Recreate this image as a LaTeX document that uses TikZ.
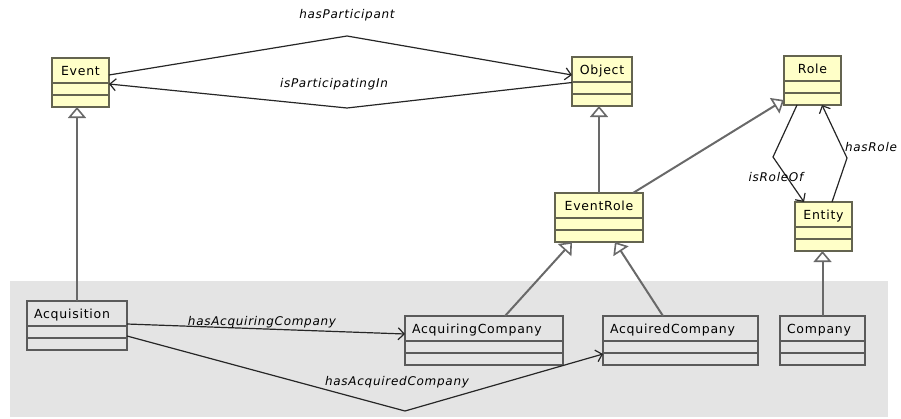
\documentclass[tikz,border=0pt]{standalone}
\usepackage{fontspec}
\newfontfamily\umlfont{DejaVu Sans}[LetterSpace=6]
\usetikzlibrary{arrows.meta}
\definecolor{clsfill}{RGB}{255,255,200}
\definecolor{clsline}{RGB}{100,100,80}
\definecolor{subline}{RGB}{90,90,90}
\definecolor{bggray}{RGB}{228,228,228}
\definecolor{genline}{RGB}{105,105,105}

\tikzset{
  cls/.style={draw=clsline, fill=clsfill, line width=2pt, anchor=north west,
    outer sep=0pt, inner xsep=7pt, inner ysep=0pt, text height=17pt, text depth=32pt,
    align=center, font=\umlfont\fontsize{12.5}{14}\selectfont,
    path picture={
      \draw[draw=clsline, line width=2pt]
        ([yshift=-25pt]path picture bounding box.north west) -- ([yshift=-25pt]path picture bounding box.north east)
        ([yshift=-37pt]path picture bounding box.north west) -- ([yshift=-37pt]path picture bounding box.north east);}},
  subcls/.style={cls, draw=subline, fill=none, align=left,
    path picture={
      \draw[draw=subline, line width=2pt]
        ([yshift=-25pt]path picture bounding box.north west) -- ([yshift=-25pt]path picture bounding box.north east)
        ([yshift=-37pt]path picture bounding box.north west) -- ([yshift=-37pt]path picture bounding box.north east);}},
  rel/.style={font=\umlfont\itshape\fontsize{12}{14}\selectfont},
  gen/.style={draw=genline, line width=2pt, -{Triangle[length=11pt, width=18pt, fill=white, line width=1.6pt]}},
  assoc/.style={draw=black!85, line width=1.2pt, -{Straight Barb[length=6pt, width=12pt]}}
}

\begin{document}
\begin{tikzpicture}[x=1pt, y=-1pt]

    \useasboundingbox (0,0) rectangle (901,418);
    \fill[bggray] (10,281) rectangle (888,417);

    % upper ontology
    \draw(52,58) node[cls, text width=43pt] (Event) {Event};
    \draw(572,57) node[cls, text width=46pt] (Object) {Object};
    \draw(784,56) node[cls, text width=43pt] (Role) {Role};
    \draw(795,202) node[cls, text width=43pt] (Entity) {Entity};
    \draw(555,193) node[cls, text width=74pt] (EventRole) {EventRole};

    % domain classes
    \draw(27,301) node[subcls, text width=86pt] (Acquisition) {Acquisition};
    \draw(405,316) node[subcls, text width=144pt] (AcqCo) {AcquiringCompany};
    \draw(603,316) node[subcls, text width=141pt] (AcdCo) {AcquiredCompany};
    \draw(780,316) node[subcls, text width=71pt] (Company) {Company};

    \coordinate (hp) at (347,36);
    \coordinate (ip) at (347,108);
    \coordinate (ro) at (773,157);
    \coordinate (hr) at (847,158);
    \coordinate (ac) at (405,411);

    \draw[assoc] ([yshift=7.5pt]Event.east) -- (hp) -- ([yshift=6.5pt]Object.east -| Object.west);
    \draw[assoc] ([yshift=-1pt]Object.west) -- (ip) -- ([yshift=-1.5pt]Event.east);
    \draw(347,15) node[rel] (lhp) {hasParticipant};
    \draw(334,84) node[rel] (lip) {isParticipatingIn};

    \draw[gen] (Acquisition.north) -- (Acquisition.north |- Event.south);
    \draw[gen] (EventRole.north) -- (EventRole.north |- Object.south);
    \draw[gen] ([xshift=-10pt]EventRole.north east) -- ([yshift=5pt]Role.south west);
    \draw[gen] ([xshift=100pt]AcqCo.north west) -- ([xshift=17pt]EventRole.south west);
    \draw[gen] ([xshift=60pt]AcdCo.north west) -- ([xshift=60pt]EventRole.south west);
    \draw[gen] (Company.north) -- (Company.north |- Entity.south);

    \draw[assoc] ([xshift=13pt]Role.south west) -- (ro) -- ([xshift=9pt]Entity.north west);
    \draw[assoc] ([xshift=-20pt]Entity.north east) -- (hr) -- ([xshift=-19pt]Role.south east);
    \draw(776,177) node[rel] (lro) {isRoleOf};
    \draw(871,147) node[rel] (lhr) {hasRole};

    \draw[assoc] ([yshift=1.5pt]Acquisition.east) -- ([yshift=6.5pt]AcqCo.west);
    \draw[assoc] ([yshift=-10.5pt]Acquisition.east) -- (ac) -- ([yshift=-13.5pt]AcdCo.west);
    \draw(262,322) node[rel] (lac) {hasAcquiringCompany};
    \draw(397,382) node[rel] (lad) {hasAcquiredCompany};

\end{tikzpicture}
\end{document}
